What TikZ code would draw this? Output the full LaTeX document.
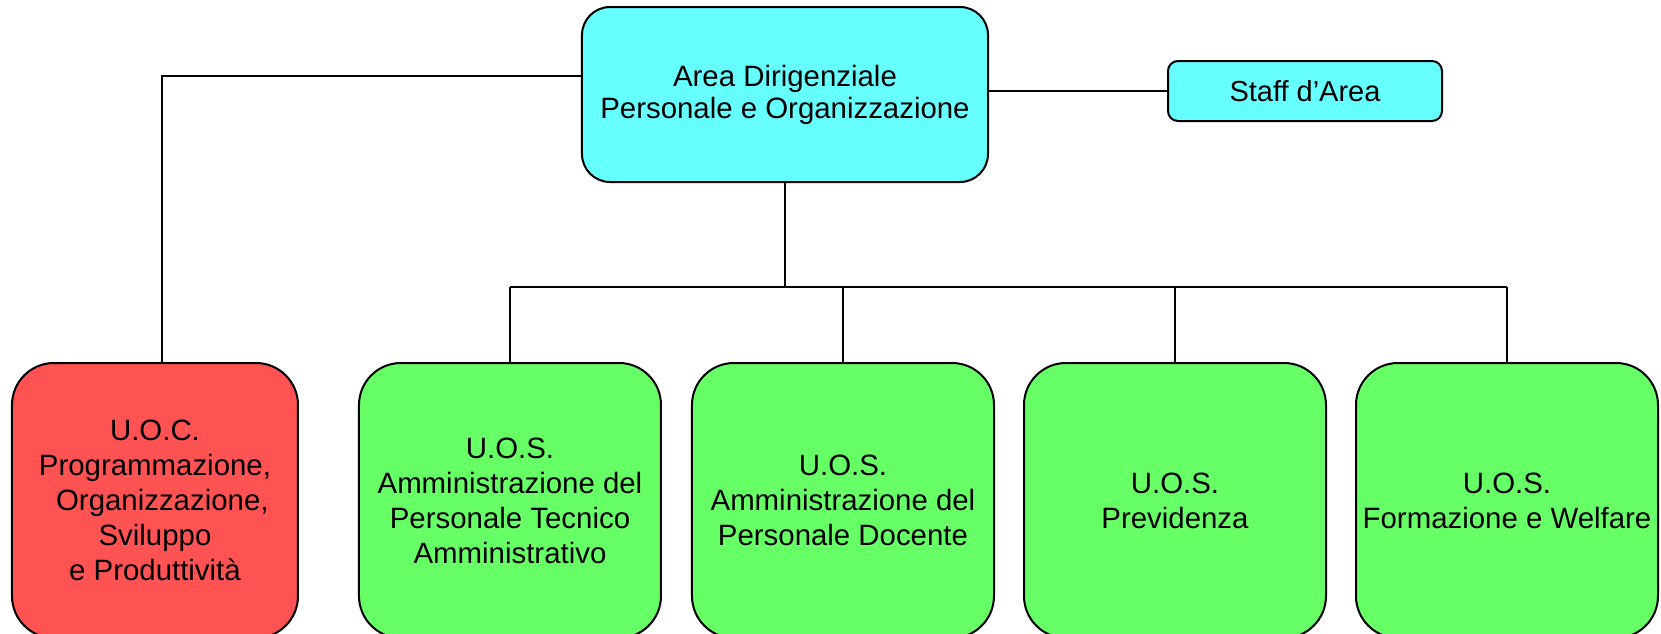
\documentclass[tikz,border=0pt]{standalone}
\usepackage{fontspec}
\setmainfont{Liberation Sans}
\usetikzlibrary{positioning}

\definecolor{areacyan}{HTML}{66FFFF}
\definecolor{uocred}{HTML}{FF5252}
\definecolor{uosgreen}{HTML}{66FF66}

\tikzstyle{head} = [draw, rectangle, line width=1pt, fill=areacyan, align=center, inner sep=0pt, font=\fontsize{14.7}{16}\selectfont]
\tikzstyle{staffbox} = [draw, rectangle, line width=1pt, fill=areacyan, align=center, inner sep=0pt, font=\fontsize{14.5}{17}\selectfont]
\tikzstyle{unit} = [draw, rectangle, line width=1pt, align=center, inner sep=0pt, font=\fontsize{14.7}{17.5}\selectfont]
\tikzstyle{link} = [line width=.9pt]

\begin{document}
\begin{tikzpicture}[auto,node distance=1cm]
  \def\u{.5pt}
  \def\bw{302*\u}
  \def\bh{275*\u}

  \useasboundingbox (-785*\u,94.5*\u) rectangle (876*\u,-538.5*\u);

  \node [head, minimum width=406*\u, minimum height=175*\u, rounded corners=14*\u*2] (area) {Area Dirigenziale\\Personale e Organizzazione};
  \node [staffbox, right of=area, node distance=520*\u, yshift=3.5*\u, minimum width=274*\u, minimum height=60*\u, rounded corners=5pt] (staff) {Staff d’Area};

  \node [coordinate, below of=area, node distance=192.5*\u] (bus) {};
  \node [coordinate, left of=bus, node distance=275*\u] (bus_a) {};
  \node [coordinate, right of=bus, node distance=58*\u] (bus_b) {};
  \node [coordinate, right of=bus, node distance=390*\u] (bus_c) {};
  \node [coordinate, right of=bus, node distance=722*\u] (bus_d) {};

  \node [unit, fill=uosgreen, minimum width=\bw, minimum height=\bh, rounded corners=21pt, below of=bus_a, node distance=213.5*\u] (tec) {U.O.S.\\Amministrazione del\\Personale Tecnico\\Amministrativo};
  \node [unit, fill=uosgreen, minimum width=\bw, minimum height=\bh, rounded corners=21pt, below of=bus_b, node distance=213.5*\u] (doc) {U.O.S.\\Amministrazione del\\Personale Docente};
  \node [unit, fill=uosgreen, minimum width=\bw, minimum height=\bh, rounded corners=21pt, below of=bus_c, node distance=213.5*\u] (prev) {U.O.S.\\Previdenza};
  \node [unit, fill=uosgreen, minimum width=\bw, minimum height=\bh, rounded corners=21pt, below of=bus_d, node distance=213.5*\u] (form) {U.O.S.\\Formazione e Welfare};

  \node [coordinate, left of=area, node distance=623*\u] (lft) {};
  \node [coordinate, above of=lft, node distance=18.5*\u] (lft_a) {};
  \node [unit, fill=uocred, minimum width=286*\u, minimum height=\bh, rounded corners=21pt, below of=lft, node distance=406*\u, xshift=-7*\u] (uoc) {U.O.C.\\Programmazione,\\\hspace*{.5em}Organizzazione,\\Sviluppo\hspace*{.35em}\\e Produttività};

  \draw [link] (area.east |- staff) -- (staff);
  \draw [link] (lft_a -| area.west) -- (lft_a) -- (lft_a |- uoc.north);

  \draw [link] (area) -- (bus);
  \draw [link] (bus_a) -- (bus_d);
  \draw [link] (bus_a) -- (tec);
  \draw [link] (bus_b) -- (doc);
  \draw [link] (bus_c) -- (prev);
  \draw [link] (bus_d) -- (form);
\end{tikzpicture}
\end{document}
